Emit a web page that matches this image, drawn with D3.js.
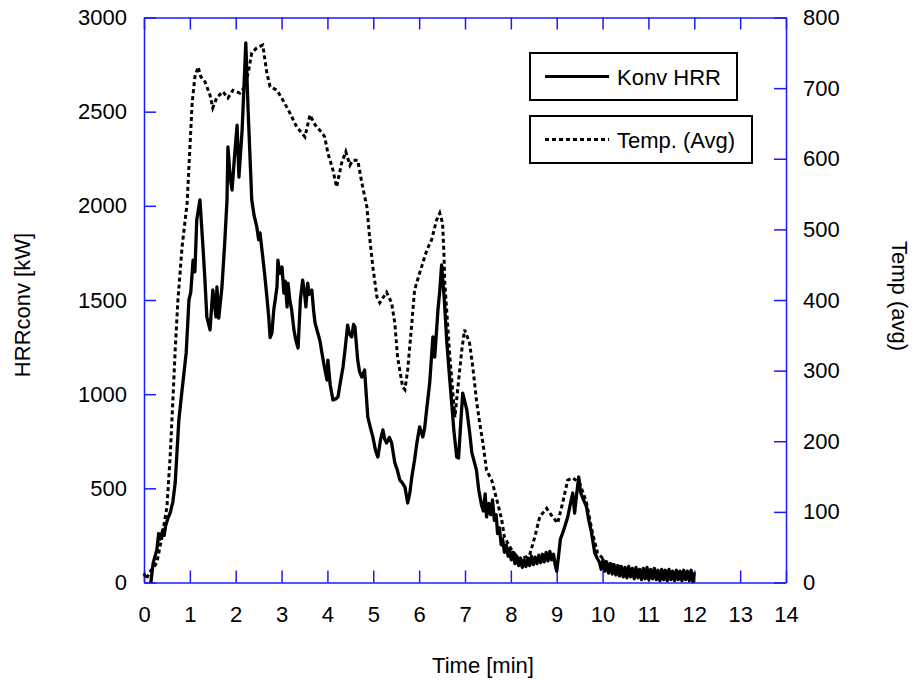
<!DOCTYPE html>
<html>
<head>
<meta charset="utf-8">
<script src="https://cdn.jsdelivr.net/npm/d3@7"></script>
<style>
  body { margin: 0; background: #fff; }
  text { font-family: "Liberation Sans", Arial, sans-serif; }
</style>
</head>
<body>
<svg width="918" height="684"></svg>
<script>
// ticks
var timeTicks = d3.range(0, 15, 1);
var hrrTicks = [0, 500, 1000, 1500, 2000, 2500, 3000];
var tempTicks = [0, 100, 200, 300, 400, 500, 600, 700, 800];

// Konv HRR [kW] vs time [min]
var hrrData = [
  [0.15, 0], [0.20, 104], [0.28, 173], [0.32, 260], [0.35, 230], [0.41, 279], [0.44, 250], [0.47, 300],
  [0.52, 340], [0.57, 369], [0.63, 430], [0.68, 528], [0.76, 863], [0.83, 1022], [0.92, 1219],
  [0.98, 1500], [1.02, 1540], [1.07, 1712], [1.11, 1650], [1.15, 1925], [1.22, 2031], [1.29, 1766],
  [1.33, 1600], [1.37, 1410], [1.44, 1341], [1.50, 1553], [1.57, 1410], [1.59, 1569], [1.63, 1404],
  [1.70, 1569], [1.76, 1803], [1.81, 2031], [1.83, 2313], [1.88, 2150], [1.92, 2084], [1.97, 2250],
  [2.03, 2429], [2.07, 2153], [2.14, 2403], [2.22, 2865], [2.27, 2509], [2.35, 2031], [2.40, 1950],
  [2.46, 1888], [2.50, 1820], [2.53, 1856], [2.59, 1728], [2.63, 1640], [2.68, 1516], [2.72, 1410],
  [2.75, 1300], [2.79, 1325], [2.83, 1447], [2.90, 1569], [2.92, 1712], [2.96, 1640], [3.01, 1675],
  [3.05, 1537], [3.08, 1600], [3.12, 1463], [3.14, 1590], [3.18, 1500], [3.22, 1447], [3.27, 1340],
  [3.31, 1288], [3.36, 1245], [3.41, 1500], [3.46, 1606], [3.50, 1540], [3.53, 1463], [3.57, 1590],
  [3.60, 1530], [3.66, 1553], [3.70, 1440], [3.73, 1378], [3.79, 1325], [3.84, 1280], [3.88, 1219],
  [3.93, 1150], [3.99, 1075], [4.01, 1181], [4.06, 1050], [4.12, 969], [4.18, 975], [4.23, 985],
  [4.28, 1060], [4.34, 1144], [4.39, 1250], [4.44, 1367], [4.48, 1320], [4.53, 1304], [4.57, 1370],
  [4.60, 1357], [4.66, 1181], [4.70, 1120], [4.75, 1091], [4.81, 1128], [4.88, 879], [4.94, 820],
  [4.99, 773], [5.05, 700], [5.10, 666], [5.16, 760], [5.21, 810], [5.25, 760], [5.29, 741],
  [5.35, 770], [5.40, 741], [5.47, 635], [5.52, 600], [5.58, 544], [5.63, 530], [5.69, 507],
  [5.75, 422], [5.80, 480], [5.84, 560], [5.90, 650], [5.95, 741], [6.01, 826], [6.08, 773],
  [6.12, 820], [6.17, 932], [6.23, 1059], [6.27, 1200], [6.30, 1304], [6.34, 1197], [6.41, 1447],
  [6.45, 1550], [6.49, 1686], [6.55, 1500], [6.60, 1288], [6.66, 1100], [6.71, 953], [6.76, 800],
  [6.82, 666], [6.86, 661], [6.90, 820], [6.95, 1006], [7.04, 916], [7.10, 800], [7.15, 688],
  [7.25, 597], [7.30, 491], [7.36, 412], [7.40, 380], [7.44, 470], [7.47, 348], [7.52, 420],
  [7.56, 360], [7.60, 438], [7.64, 330], [7.68, 360], [7.71, 260], [7.75, 290], [7.79, 200],
  [7.82, 230], [7.86, 160], [7.90, 200], [7.94, 140], [7.97, 180], [8.01, 120], [8.05, 160],
  [8.09, 100], [8.13, 140], [8.17, 90], [8.21, 130], [8.25, 80], [8.29, 120], [8.33, 85],
  [8.37, 130], [8.41, 90], [8.45, 140], [8.49, 95], [8.53, 135], [8.57, 100], [8.61, 145],
  [8.65, 105], [8.69, 150], [8.73, 110], [8.77, 160], [8.81, 115], [8.85, 165], [8.89, 120],
  [8.93, 150], [8.97, 90], [9.00, 60], [9.04, 140], [9.08, 230], [9.13, 263], [9.18, 300],
  [9.24, 348], [9.30, 420], [9.35, 475], [9.39, 369], [9.44, 480], [9.48, 560], [9.52, 480],
  [9.56, 454], [9.65, 401], [9.70, 330], [9.76, 263], [9.83, 157], [9.88, 130], [9.93, 109],
  [9.97, 70], [10.01, 120], [10.05, 60], [10.09, 110], [10.13, 50], [10.17, 100], [10.21, 45],
  [10.25, 95], [10.29, 40], [10.33, 90], [10.37, 35], [10.41, 85], [10.45, 30], [10.49, 80],
  [10.53, 25], [10.57, 85], [10.61, 30], [10.65, 75], [10.69, 20], [10.73, 80], [10.77, 25],
  [10.81, 70], [10.85, 15], [10.89, 75], [10.93, 20], [10.97, 80], [11.01, 15], [11.05, 70],
  [11.09, 20], [11.13, 75], [11.17, 15], [11.21, 65], [11.25, 10], [11.29, 70], [11.33, 15],
  [11.37, 65], [11.41, 10], [11.45, 70], [11.49, 15], [11.53, 60], [11.57, 10], [11.61, 65],
  [11.65, 15], [11.69, 60], [11.73, 10], [11.77, 65], [11.81, 15], [11.85, 60], [11.89, 10],
  [11.93, 65], [11.97, 5], [12.00, 55]
];

// Temp. (Avg) [C] vs time [min]
var tempData = [
  [0.00, 13], [0.05, 5], [0.13, 15], [0.28, 28], [0.39, 64], [0.50, 107], [0.57, 178], [0.63, 258],
  [0.68, 329], [0.74, 400], [0.83, 475], [0.94, 537], [1.05, 679], [1.11, 716], [1.18, 730],
  [1.24, 716], [1.33, 709], [1.44, 690], [1.50, 672], [1.59, 687], [1.72, 695], [1.83, 686],
  [1.94, 697], [2.09, 693], [2.20, 702], [2.27, 721], [2.35, 750], [2.46, 757], [2.59, 761],
  [2.68, 721], [2.75, 702], [2.90, 697], [3.03, 683], [3.18, 665], [3.33, 645], [3.51, 631],
  [3.62, 662], [3.73, 648], [3.88, 637], [3.94, 631], [4.01, 608], [4.12, 584], [4.20, 560],
  [4.31, 594], [4.40, 610], [4.49, 591], [4.55, 598], [4.66, 598], [4.75, 566], [4.86, 532],
  [4.92, 489], [4.99, 447], [5.08, 404], [5.14, 396], [5.29, 411], [5.40, 396], [5.47, 367],
  [5.53, 319], [5.64, 277], [5.69, 273], [5.75, 301], [5.84, 367], [5.90, 414], [6.01, 438],
  [6.17, 471], [6.27, 485], [6.38, 513], [6.45, 523], [6.51, 509], [6.54, 467], [6.56, 424],
  [6.67, 319], [6.78, 234], [6.84, 273], [6.93, 329], [6.99, 358], [7.10, 339], [7.17, 305],
  [7.25, 258], [7.32, 226], [7.39, 198], [7.47, 159], [7.58, 145], [7.60, 141], [7.71, 113],
  [7.80, 89], [7.86, 64], [8.02, 46], [8.19, 32], [8.41, 39], [8.52, 64], [8.63, 93], [8.78, 105],
  [8.91, 93], [9.02, 84], [9.13, 113], [9.24, 145], [9.35, 148], [9.50, 141], [9.65, 113],
  [9.78, 70], [9.89, 42], [10.09, 28], [10.59, 18], [11.20, 14], [11.96, 11]
];

var svg = d3.select("svg");
var plotLeft = 144, plotRight = 786, plotTop = 17.5, plotBottom = 582.5;
var axisColor = "#1a1aff";
var fontSize = "22px";

var x = d3.scaleLinear().domain([0, 14]).range([plotLeft, plotRight]);
var yL = d3.scaleLinear().domain([0, 3000]).range([plotBottom, plotTop]);
var yR = d3.scaleLinear().domain([0, 800]).range([plotBottom, plotTop]);

function styleAxis(g) {
  g.selectAll("path, line").attr("stroke", axisColor).attr("stroke-width", 1.5);
  g.selectAll("text").attr("font-size", fontSize).attr("fill", "#000")
    .attr("font-family", "'Liberation Sans', Arial, sans-serif");
}

// bottom axis
svg.append("g")
  .attr("transform", "translate(0," + plotBottom + ")")
  .call(d3.axisBottom(x).tickValues(timeTicks).tickFormat(d3.format("d"))
    .tickSizeInner(-12).tickSizeOuter(0).tickPadding(24))
  .call(styleAxis);

// top axis (ticks only)
svg.append("g")
  .attr("transform", "translate(0," + plotTop + ")")
  .call(d3.axisTop(x).tickValues(timeTicks).tickFormat("")
    .tickSizeInner(-12).tickSizeOuter(0))
  .call(styleAxis);

// left axis
svg.append("g")
  .attr("transform", "translate(" + plotLeft + ",0)")
  .call(d3.axisLeft(yL).tickValues(hrrTicks).tickFormat(d3.format("d"))
    .tickSizeInner(-12).tickSizeOuter(0).tickPadding(17))
  .call(styleAxis);

// right axis
svg.append("g")
  .attr("transform", "translate(" + plotRight + ",0)")
  .call(d3.axisRight(yR).tickValues(tempTicks).tickFormat(d3.format("d"))
    .tickSizeInner(-12).tickSizeOuter(0).tickPadding(17))
  .call(styleAxis);

// lines
var hrrLine = d3.line().x(d => x(d[0])).y(d => yL(d[1]));
var tempLine = d3.line().x(d => x(d[0])).y(d => yR(d[1]));

svg.append("path")
  .datum(tempData)
  .attr("d", tempLine)
  .attr("fill", "none")
  .attr("stroke", "#000")
  .attr("stroke-width", 3)
  .attr("stroke-dasharray", "4,3");

svg.append("path")
  .datum(hrrData)
  .attr("d", hrrLine)
  .attr("fill", "none")
  .attr("stroke", "#000")
  .attr("stroke-width", 3.3)
  .attr("stroke-linejoin", "round");

// axis titles
svg.append("text")
  .attr("x", 483).attr("y", 673)
  .attr("text-anchor", "middle")
  .attr("font-size", fontSize)
  .text("Time [min]");

svg.append("text")
  .attr("transform", "translate(30,305) rotate(-90)")
  .attr("text-anchor", "middle")
  .attr("font-size", fontSize)
  .text("HRRconv [kW]");

svg.append("text")
  .attr("transform", "translate(892,296) rotate(90)")
  .attr("text-anchor", "middle")
  .attr("font-size", fontSize)
  .text("Temp (avg)");

// legend
var legend = [
  { label: "Konv HRR", x: 530, y: 53, w: 207, h: 47, dash: null },
  { label: "Temp. (Avg)", x: 530, y: 116, w: 222, h: 47, dash: "4,3" }
];
legend.forEach(function (l) {
  var g = svg.append("g");
  g.append("rect")
    .attr("x", l.x).attr("y", l.y).attr("width", l.w).attr("height", l.h)
    .attr("fill", "#fff").attr("stroke", "#000").attr("stroke-width", 2);
  g.append("line")
    .attr("x1", l.x + 15).attr("x2", l.x + 79)
    .attr("y1", l.y + l.h / 2).attr("y2", l.y + l.h / 2)
    .attr("stroke", "#000").attr("stroke-width", 3)
    .attr("stroke-dasharray", l.dash);
  g.append("text")
    .attr("x", l.x + 87).attr("y", l.y + l.h / 2 + 8)
    .attr("font-size", fontSize)
    .text(l.label);
});
</script>
</body>
</html>
